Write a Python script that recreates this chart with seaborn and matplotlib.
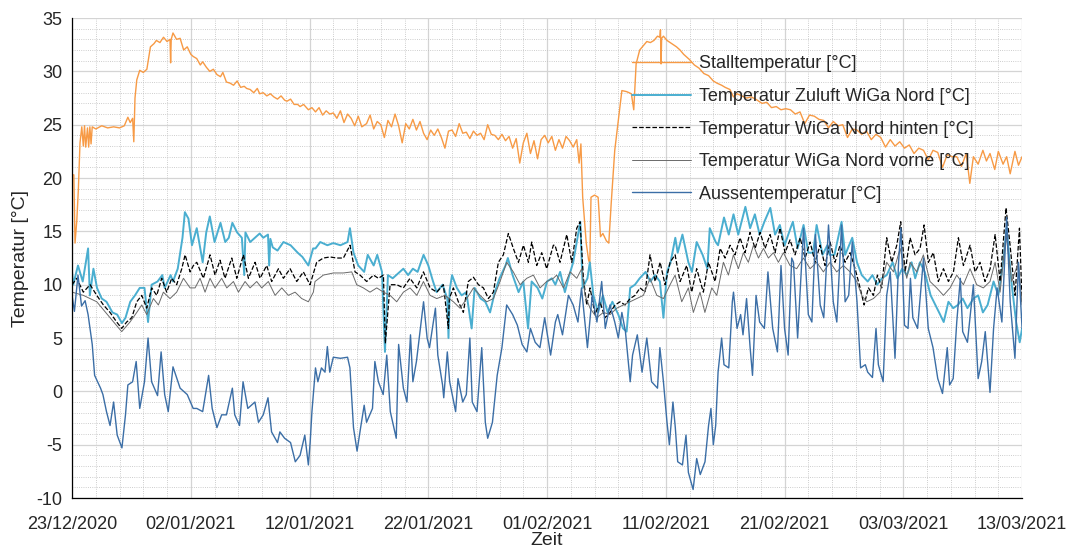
import pandas as pd
import matplotlib
matplotlib.use('Agg')
import matplotlib.pyplot as plt
import matplotlib.dates as mdates
import seaborn as sns

# Zeitachse: Tage ab 23/12/2020 00:00
start = pd.Timestamp('2020-12-23')

stall_tage = [0.0, 0.15, 0.25, 0.4, 0.53, 0.67, 0.82, 0.95, 1.05, 1.15, 1.3, 1.4, 1.5, 1.6, 1.7, 2.0, 2.5, 3.0, 3.5, 4.0,
              4.4, 4.7, 4.9, 5.1, 5.2, 5.3, 5.45, 5.7, 6.0, 6.3, 6.6, 6.9, 7.1, 7.4, 7.7, 8.0, 8.25, 8.3, 8.35, 8.5,
              8.8, 9.1, 9.4, 9.7, 10.0, 10.2, 10.5, 10.8, 11.0, 11.3, 11.6, 11.9, 12.2, 12.5, 12.7, 13.0, 13.3, 13.6,
              13.9, 14.2, 14.5, 14.7, 15.0, 15.3, 15.6, 15.8, 16.1, 16.4, 16.7, 17.0, 17.3, 17.6, 17.9, 18.1, 18.4,
              18.7, 19.0, 19.2, 19.5, 19.9, 20.2, 20.5, 20.8, 21.1, 21.4, 21.7, 22.0, 22.3, 22.6, 22.9, 23.2, 23.5,
              23.8, 24.1, 24.4, 24.8, 25.1, 25.4, 25.7, 26.0, 26.3, 26.6, 26.9, 27.2, 27.5, 27.8, 28.1, 28.4, 28.7,
              29.0, 29.3, 29.6, 29.9, 30.2, 30.5, 30.8, 31.1, 31.4, 31.7, 32.0, 32.3, 32.6, 32.9, 33.2, 33.5, 33.8,
              34.1, 34.4, 34.7, 35.0, 35.3, 35.6, 35.9, 36.2, 36.5, 36.8, 37.1, 37.4, 37.7, 38.0, 38.3, 38.6, 38.9,
              39.2, 39.5, 39.8, 40.1, 40.4, 40.7, 41.0, 41.3, 41.6, 41.9, 42.2, 42.5, 42.7, 42.85, 43.0, 43.3, 43.5,
              43.6, 43.7, 44.0, 44.3, 44.5, 44.7, 45.0, 45.2, 45.4, 45.7, 46.0, 46.3, 46.7, 47.1, 47.3, 47.4, 47.5,
              47.8, 48.1, 48.4, 48.7, 49.0, 49.3, 49.5, 49.55, 49.6, 49.65, 49.8, 50.1, 50.5, 50.9, 51.2, 51.5, 52.0,
              52.4, 52.8, 53.2, 53.6, 54.0, 54.3, 54.7, 55.0, 55.4, 55.7, 56.0, 56.4, 56.8, 57.2, 57.7, 58.1, 58.5,
              58.9, 59.3, 59.7, 60.1, 60.5, 60.9, 61.3, 61.7, 62.1, 62.5, 62.9, 63.3, 63.7, 64.1, 64.5, 64.9, 65.3,
              65.7, 66.1, 66.5, 66.9, 67.3, 67.7, 68.1, 68.5, 68.9, 69.3, 69.7, 70.1, 70.5, 70.9, 71.3, 71.7, 72.1,
              72.5, 72.9, 73.3, 73.7, 74.1, 74.5, 74.9, 75.3, 75.6, 75.9, 76.3, 76.7, 77.0, 77.3, 77.7, 78.0, 78.4,
              78.7, 79.0, 79.4, 79.7, 80.0]
stall_temp = [20.3, 20.3, 13.9, 16.0, 18.9, 23.3, 24.8, 23.0, 24.9, 22.9, 24.7, 22.9, 24.8, 23.2, 24.8, 24.6, 24.9, 24.7, 24.8, 24.7,
              24.9, 25.7, 25.2, 25.6, 23.4, 27.5, 29.2, 30.1, 29.9, 30.2, 32.3, 32.6, 32.9, 32.7, 33.2, 32.8, 33.0, 30.8, 33.0, 33.6,
              33.0, 33.1, 32.0, 32.3, 31.6, 31.4, 31.2, 30.6, 30.9, 30.4, 30.0, 30.2, 29.7, 29.5, 29.9, 29.0, 28.9, 28.7,
              29.1, 28.5, 28.6, 28.4, 28.3, 28.0, 28.4, 27.9, 28.0, 27.7, 27.9, 27.6, 27.4, 27.7, 27.3, 27.2, 27.4,
              26.9, 26.9, 26.7, 26.9, 26.4, 26.6, 26.2, 26.6, 25.9, 26.3, 26.0, 26.1, 25.6, 26.3, 25.2, 26.0, 25.6,
              24.9, 25.8, 24.8, 25.1, 25.9, 24.6, 25.3, 25.0, 23.8, 25.4, 24.8, 26.0, 24.9, 23.3, 25.1, 24.6, 25.5,
              24.5, 25.3, 24.2, 23.6, 24.5, 24.0, 24.6, 23.8, 22.8, 24.4, 24.5, 23.9, 25.1, 24.2, 24.3, 23.7, 24.4,
              24.0, 24.2, 23.6, 25.0, 24.1, 24.0, 23.6, 24.1, 23.5, 23.9, 22.8, 23.7, 21.4, 23.3, 24.2, 22.3, 23.5,
              21.8, 23.6, 24.0, 23.3, 23.9, 22.6, 23.6, 22.8, 23.9, 23.5, 22.9, 23.6, 21.4, 23.2, 18.2, 13.9, 12.3,
              12.0, 18.2, 18.4, 18.2, 14.5, 14.8, 14.1, 13.9, 17.6, 22.6, 25.4, 28.2, 28.1, 27.9, 26.4, 28.5, 30.7,
              32.0, 32.4, 32.8, 32.7, 32.9, 33.3, 33.2, 33.9, 30.7, 33.1, 33.3, 32.9, 32.6, 32.3, 32.0, 31.6, 31.1,
              30.6, 30.3, 29.8, 29.6, 29.1, 28.9, 28.7, 28.5, 28.3, 27.6, 27.9, 27.7, 27.5, 27.6, 27.3, 27.0, 27.1,
              26.6, 26.7, 26.4, 26.5, 26.4, 26.0, 26.2, 25.1, 25.9, 25.8, 25.5, 25.4, 24.7, 25.3, 24.9, 25.0, 23.8,
              24.6, 24.5, 24.1, 24.4, 23.6, 24.1, 23.8, 22.9, 23.6, 23.0, 23.4, 22.8, 23.1, 22.3, 22.8, 22.6, 21.7,
              22.6, 22.4, 21.0, 22.2, 22.0, 22.0, 21.1, 22.3, 19.5, 22.0, 21.3, 22.6, 21.6, 22.3, 20.8, 22.5, 21.3,
              22.0, 20.4, 22.5, 21.2, 22.0]

zuluft_tage = [0.0, 0.1, 0.5, 0.9, 1.35, 1.5, 1.8, 2.1, 2.5, 2.9, 3.4, 3.8, 4.2, 4.5, 4.9, 5.3, 5.7, 6.1, 6.4, 6.7,
               7.2, 7.6, 7.8, 8.3, 8.5, 8.9, 9.3, 9.5, 9.8, 10.1, 10.5, 11.0, 11.3, 11.6, 12.0, 12.5, 12.9, 13.2,
               13.5, 13.9, 14.3, 14.5, 14.6, 15.0, 15.4, 15.8, 16.1, 16.5, 16.6, 16.7, 16.9, 17.3, 17.8, 18.4, 19.0,
               19.4, 19.9, 20.3, 20.5, 20.9, 21.5, 22.0, 22.6, 23.2, 23.4, 23.7, 24.1, 24.6, 24.9, 25.4, 25.7, 26.1,
               26.35, 26.6, 27.0, 27.5, 27.9, 28.3, 28.7, 29.1, 29.6, 30.0, 30.4, 30.7, 31.2, 31.6, 31.7, 31.8, 32.0,
               32.4, 32.8, 33.2, 33.65, 33.9, 34.4, 34.8, 35.2, 35.6, 36.0, 36.5, 36.7, 37.1, 37.6, 38.0, 38.4, 38.7,
               39.2, 39.6, 40.0, 40.4, 40.7, 41.1, 41.5, 41.8, 42.2, 42.8, 43.0, 43.4, 43.6, 43.9, 44.3, 44.7, 45.1,
               45.5, 46.0, 46.4, 46.7, 47.0, 47.4, 47.8, 48.3, 48.7, 49.1, 49.5, 49.8, 50.1, 50.4, 50.8, 51.0, 51.4,
               51.9, 52.2, 52.6, 53.1, 53.5, 53.7, 54.2, 54.4, 54.9, 55.3, 55.7, 56.1, 56.7, 57.1, 57.5, 57.9, 58.3,
               58.8, 59.2, 59.6, 60.0, 60.5, 60.7, 61.1, 61.6, 62.0, 62.4, 62.7, 63.2, 63.6, 63.8, 64.2, 64.8, 65.1,
               65.7, 66.1, 66.5, 67.0, 67.4, 67.8, 68.2, 68.6, 69.1, 69.5, 69.9, 70.3, 70.7, 71.0, 71.4, 71.8, 72.3,
               72.7, 73.1, 73.4, 73.8, 74.2, 74.6, 75.0, 75.4, 75.9, 76.3, 76.7, 77.1, 77.6, 78.0, 78.4, 78.7, 79.1,
               79.5, 79.8, 80.0]
zuluft_temp = [11.2, 10.0, 11.8, 10.3, 13.4, 9.0, 11.5, 9.7, 8.7, 8.4, 7.4, 7.2, 6.4, 6.9, 8.4, 9.0, 9.7, 9.7, 6.5, 10.0,
               10.3, 10.9, 9.7, 10.9, 10.3, 11.5, 14.4, 16.8, 16.2, 13.7, 15.3, 12.1, 14.9, 16.4, 14.0, 15.8, 14.0, 14.4,
               15.8, 14.9, 14.4, 10.9, 14.9, 14.0, 14.4, 14.8, 14.4, 14.7, 11.8, 14.3, 13.5, 13.2, 14.0, 13.7, 13.0,
               12.6, 11.8, 13.4, 13.4, 14.0, 13.7, 13.9, 13.7, 14.0, 15.3, 13.0, 11.8, 11.2, 12.8, 11.8, 12.8, 11.2,
               3.7, 10.9, 10.6, 11.1, 11.5, 10.9, 11.5, 11.2, 12.8, 11.8, 10.3, 9.3, 10.0, 8.7, 5.0, 9.5, 10.9,
               9.7, 9.0, 9.3, 5.9, 9.7, 8.7, 8.4, 7.4, 9.3, 10.6, 11.8, 12.5, 10.9, 9.3, 10.3, 5.9, 10.3,
               9.7, 8.7, 10.3, 10.6, 10.0, 11.2, 9.3, 10.6, 12.1, 15.9, 9.7, 10.6, 12.1, 9.0, 7.4, 9.0, 7.4,
               8.4, 7.2, 5.9, 5.6, 9.7, 10.0, 10.6, 11.2, 10.3, 10.9, 10.3, 6.9, 11.2, 12.1, 14.4, 13.0, 14.7,
               12.1, 11.2, 14.0, 12.8, 11.5, 15.3, 14.0, 13.7, 16.3, 14.7, 16.6, 14.7, 17.3, 15.3, 16.6, 14.7, 15.9,
               17.2, 14.7, 15.6, 13.7, 15.3, 15.9, 13.4, 15.6, 13.0, 13.0, 15.6, 12.8, 13.7, 12.8, 12.8, 15.9, 12.8,
               14.4, 12.1, 10.9, 10.3, 10.9, 10.0, 10.6, 10.9, 12.1, 10.6, 11.5, 10.9, 12.1, 10.6, 12.1, 11.2, 9.0,
               8.1, 7.2, 6.5, 8.4, 7.8, 8.1, 8.7, 7.8, 8.7, 9.0, 7.4, 8.1, 10.3, 9.0, 12.1, 15.3, 10.3,
               6.5, 4.6, 5.9]

hinten_tage = [0.0, 0.39, 0.95, 1.52, 2.08, 2.64, 3.2, 3.76, 4.18, 4.6, 5.03, 5.45, 5.87, 6.29, 6.71, 7.13, 7.55, 7.97,
               8.39, 8.81, 9.24, 9.52, 9.94, 10.22, 10.5, 11.06, 11.62, 12.04, 12.46, 12.88, 13.45, 13.87, 14.43, 14.85,
               15.41, 15.83, 16.39, 16.81, 17.38, 17.8, 18.36, 18.92, 19.48, 20.04, 20.6, 21.16, 21.73, 22.29, 22.85,
               23.41, 23.83, 24.25, 24.81, 25.38, 25.8, 26.22, 26.38, 26.78, 27.34, 27.9, 28.46, 29.03, 29.59, 30.15,
               30.71, 31.27, 31.69, 31.77, 32.11, 32.53, 32.95, 33.37, 33.8, 34.22, 34.64, 35.06, 35.48, 35.9, 36.32,
               36.74, 37.16, 37.59, 38.01, 38.43, 38.71, 39.13, 39.55, 39.97, 40.53, 40.67, 41.09, 41.66, 42.08, 42.5,
               42.78, 43.06, 43.34, 43.62, 44.04, 44.46, 44.88, 45.31, 45.73, 46.15, 46.57, 46.99, 47.41, 47.83, 48.25,
               48.67, 49.1, 49.52, 49.94, 50.36, 50.78, 51.2, 51.76, 52.18, 52.6, 53.16, 53.59, 54.15, 54.57, 54.99,
               55.41, 55.83, 56.25, 56.67, 57.09, 57.52, 57.94, 58.36, 58.78, 59.2, 59.62, 60.04, 60.46, 60.88, 61.31,
               61.73, 62.15, 62.57, 62.99, 63.41, 63.83, 64.25, 64.67, 65.09, 65.52, 65.94, 66.36, 66.7, 67.06, 67.48,
               67.82, 68.18, 68.6, 69.02, 69.45, 69.78, 70.15, 70.57, 70.99, 71.41, 71.75, 72.11, 72.53, 72.95, 73.38,
               73.8, 74.22, 74.64, 75.06, 75.62, 76.04, 76.46, 76.88, 77.31, 77.73, 78.15, 78.65, 78.99, 79.41, 79.78,
               80.0]
hinten_temp = [10.0, 10.6, 9.3, 10.0, 9.0, 8.1, 7.4, 6.5, 5.9, 6.5, 6.9, 8.4, 9.0, 7.8, 9.7, 9.0, 10.6, 9.3,
               10.6, 10.0, 11.5, 12.8, 11.2, 11.8, 12.1, 10.6, 12.8, 10.9, 12.3, 10.6, 12.5, 10.6, 12.8, 10.6,
               12.1, 10.6, 11.8, 10.3, 11.5, 10.6, 11.5, 10.3, 11.2, 10.0, 12.1, 12.5, 12.6, 12.5, 12.5,
               13.7, 11.2, 10.9, 10.3, 10.9, 10.6, 10.9, 4.5, 10.0, 10.0, 9.7, 10.6, 9.7, 11.2, 9.7,
               9.3, 10.0, 5.9, 8.7, 9.7, 8.4, 7.4, 10.3, 10.7, 10.0, 9.7, 8.7, 9.3, 12.1, 12.8,
               14.8, 13.4, 12.1, 13.7, 12.1, 14.0, 11.8, 13.0, 11.5, 13.7, 13.7, 12.1, 14.7, 12.1, 15.3,
               15.9, 10.6, 8.1, 9.7, 7.2, 8.4, 6.9, 7.4, 8.1, 8.4, 8.1, 8.7, 9.0, 9.7, 9.3,
               12.8, 10.3, 12.1, 10.0, 12.1, 12.8, 10.3, 11.8, 9.3, 11.5, 9.3, 12.1, 10.3, 13.4, 12.5,
               13.7, 12.8, 14.4, 13.0, 14.9, 13.4, 14.9, 13.4, 14.7, 13.0, 15.3, 13.0, 14.2, 12.8, 14.4,
               12.5, 14.0, 12.1, 13.7, 11.8, 14.0, 12.1, 13.7, 12.1, 13.0, 11.5, 9.7, 8.1, 9.7, 9.0,
               10.9, 9.7, 14.4, 12.1, 13.7, 15.9, 11.2, 14.4, 12.8, 13.4, 15.6, 12.1, 13.0, 10.3, 11.5,
               10.3, 11.2, 14.4, 11.8, 13.7, 11.2, 12.1, 10.3, 11.5, 14.7, 10.3, 17.2, 13.7, 9.0, 15.3,
               8.4]

vorne_tage = [0.0, 0.95, 2.08, 3.2, 4.18, 4.88, 5.45, 5.87, 6.29, 6.85, 7.27, 7.69, 8.25, 8.81, 9.38, 9.94,
              10.36, 10.78, 11.2, 11.62, 12.04, 12.6, 13.03, 13.59, 14.01, 14.57, 14.99, 15.55, 15.97, 16.53, 17.1,
              17.66, 18.22, 18.78, 19.34, 19.9, 20.32, 20.46, 21.16, 22.01, 22.85, 23.55, 23.97, 24.53, 25.09, 25.66,
              26.22, 26.78, 27.34, 27.9, 28.46, 29.03, 29.59, 30.15, 30.71, 31.41, 32.11, 32.67, 33.24, 33.8, 34.36,
              34.92, 35.48, 36.04, 36.6, 37.16, 37.73, 38.29, 38.85, 39.41, 39.97, 40.53, 40.81, 41.38, 41.94, 42.5,
              42.92, 43.2, 43.62, 44.18, 44.74, 45.31, 45.87, 46.43, 46.99, 47.55, 48.11, 48.67, 49.24, 49.8, 50.36,
              50.78, 51.34, 51.9, 52.32, 52.88, 53.29, 53.87, 54.29, 54.85, 55.27, 55.69, 56.11, 56.53, 56.95, 57.38,
              57.8, 58.22, 58.64, 59.06, 59.48, 59.9, 60.46, 61.02, 61.59, 62.15, 62.71, 63.27, 63.83, 64.39, 64.95,
              65.52, 66.08, 66.5, 66.92, 67.48, 68.04, 68.6, 69.17, 69.73, 70.29, 70.57, 71.13, 71.69, 72.25, 72.81,
              73.38, 73.94, 74.5, 75.06, 75.62, 76.18, 76.74, 77.3, 77.73, 78.15, 78.65, 79.13, 79.69, 80.0]
vorne_temp = [9.3, 9.0, 8.4, 6.9, 5.6, 6.5, 7.4, 8.1, 7.2, 8.7, 8.1, 9.3, 8.7, 9.3, 10.6, 9.7,
              9.7, 10.6, 9.3, 10.6, 9.7, 10.6, 9.7, 10.3, 9.3, 10.3, 9.7, 10.3, 9.7, 10.3, 9.0,
              9.7, 9.0, 9.3, 8.7, 8.4, 9.3, 10.3, 10.9, 11.1, 11.1, 11.2, 10.0, 9.7, 9.3, 9.7,
              9.3, 9.0, 8.4, 9.3, 9.7, 9.0, 10.3, 9.0, 8.7, 9.0, 8.4, 7.8, 8.7, 9.7, 9.0,
              8.4, 8.7, 10.3, 12.1, 11.2, 10.0, 10.6, 10.9, 9.7, 10.3, 10.6, 10.9, 9.7, 11.2, 10.6,
              11.5, 9.0, 7.8, 6.9, 7.4, 7.2, 7.8, 8.1, 8.4, 8.7, 9.0, 10.6, 9.0, 8.7, 10.0,
              10.9, 8.4, 9.7, 7.4, 9.3, 7.4, 9.7, 9.0, 12.1, 10.9, 12.8, 11.5, 13.0, 12.1, 13.7,
              12.5, 13.4, 12.5, 13.0, 12.1, 13.0, 11.8, 11.5, 12.5, 11.5, 12.1, 11.2, 12.1, 11.2, 11.8,
              11.2, 10.3, 9.0, 8.4, 8.7, 9.3, 12.1, 11.2, 13.4, 10.6, 12.1, 11.2, 12.8, 10.3, 9.7,
              9.0, 9.7, 10.9, 10.0, 11.5, 10.0, 9.7, 10.3, 12.1, 9.3, 14.7, 10.3, 12.1, 8.1]

aussen_tage = [0.0, 0.2, 0.5, 0.8, 1.1, 1.35, 1.7, 1.9, 2.4, 2.6, 2.9, 3.2, 3.5, 3.8, 4.2, 4.5, 4.7, 5.1, 5.4, 5.7,
               6.1, 6.4, 6.7, 7.2, 7.5, 7.8, 8.1, 8.5, 9.1, 9.7, 10.2, 10.5, 11.0, 11.5, 11.8, 12.2, 12.6, 13.0, 13.5,
               13.7, 14.1, 14.4, 14.8, 15.4, 15.7, 16.1, 16.5, 16.8, 17.3, 17.5, 17.9, 18.4, 18.8, 19.2, 19.6, 19.9,
               20.05, 20.2, 20.5, 20.7, 21.0, 21.3, 21.5, 21.7, 22.0, 22.6, 23.2, 23.4, 23.7, 24.0, 24.3, 24.6, 24.8,
               25.3, 25.5, 25.8, 26.2, 26.5, 26.8, 27.3, 27.5, 27.9, 28.2, 28.5, 28.7, 29.0, 29.6, 29.9, 30.1, 30.6,
               30.8, 31.2, 31.3, 31.6, 31.8, 32.3, 32.5, 32.9, 33.2, 33.5, 33.7, 34.1, 34.5, 34.8, 35.0, 35.4, 35.8,
               36.2, 36.6, 37.1, 37.5, 37.9, 38.3, 38.6, 39.0, 39.4, 39.8, 40.3, 40.7, 40.9, 41.3, 41.8, 42.2, 42.6,
               42.9, 43.4, 43.8, 44.2, 44.6, 44.9, 45.3, 45.7, 46.0, 46.3, 46.6, 47.0, 47.2, 47.6, 48.0, 48.4, 48.8,
               49.3, 49.5, 49.8, 50.1, 50.3, 50.6, 50.8, 51.0, 51.4, 51.7, 51.9, 52.3, 52.6, 52.9, 53.3, 53.6, 53.8,
               54.0, 54.2, 54.4, 54.7, 54.9, 55.3, 55.6, 55.7, 56.0, 56.3, 56.5, 56.8, 57.1, 57.3, 57.6, 57.9, 58.3,
               58.6, 59.0, 59.4, 59.7, 60.0, 60.3, 60.6, 60.75, 61.1, 61.6, 62.0, 62.3, 62.6, 63.0, 63.3, 63.7, 64.1,
               64.4, 64.8, 65.1, 65.4, 65.7, 66.1, 66.4, 66.8, 67.0, 67.4, 67.7, 67.9, 68.3, 68.6, 68.9, 69.3, 69.6,
               69.8, 70.1, 70.4, 70.6, 70.8, 71.2, 71.7, 72.1, 72.5, 72.9, 73.3, 73.7, 73.9, 74.2, 74.5, 74.8, 75.0,
               75.4, 75.9, 76.3, 76.6, 76.9, 77.3, 77.6, 77.9, 78.3, 78.7, 79.0, 79.4, 79.7, 80.0]
aussen_temp = [9.0, 7.5, 10.9, 8.0, 8.5, 7.2, 4.4, 1.5, 0.3, -0.3, -1.9, -3.2, -1.0, -4.1, -5.3, -2.2, 0.6, 0.9, 2.8, -1.6,
               0.9, 5.0, 0.9, -0.4, 3.7, -0.3, -1.9, 2.3, 0.3, -0.3, -1.6, -1.6, -1.9, 1.5, -1.6, -3.4, -2.2, -2.2, 0.3,
               -2.2, -3.2, 0.9, -1.6, -1.0, -2.9, -2.2, -0.6, -3.8, -4.8, -3.8, -4.4, -4.8, -6.6, -6.0, -4.1, -6.9,
               -4.8, -1.9, 2.2, 0.9, 2.2, 1.8, 4.2, 1.8, 3.2, 3.1, 3.2, 2.2, -3.4, -5.6, -3.4, -1.3, -2.9,
               -1.6, 2.8, 0.9, -0.3, 3.4, -1.9, -4.4, 4.4, 0.3, -1.0, 5.3, 0.9, 2.8, 8.4, 5.0, 4.1, 7.8,
               3.4, 0.6, -0.6, 3.7, 0.9, -1.9, 1.2, -1.0, -0.3, 5.0, -1.0, -1.9, 4.1, -2.9, -4.4, -2.9, 1.5,
               4.1, 8.1, 7.2, 6.2, 4.4, 3.7, 5.9, 4.6, 4.1, 6.9, 3.4, 6.5, 7.2, 5.3, 9.0, 8.1, 6.5,
               9.7, 4.1, 9.0, 6.5, 10.3, 5.9, 8.1, 6.5, 5.0, 7.4, 5.6, 0.9, 3.4, 5.3, 1.8, 5.0, 0.9,
               0.3, 4.1, 0.9, -2.9, -5.0, -1.0, -3.4, -6.6, -6.9, -4.1, -7.6, -9.2, -6.3, -7.8, -6.6, -3.2, -1.6,
               -5.0, -3.2, 1.8, 5.0, 2.5, 2.2, 8.4, 9.3, 5.9, 7.2, 5.3, 8.7, 4.1, 1.5, 9.0, 6.5, 5.9,
               11.2, 5.9, 3.7, 11.8, 5.9, 3.4, 12.5, 12.1, 5.0, 15.3, 7.2, 6.5, 14.7, 8.1, 6.9, 15.6, 8.4,
               6.5, 15.6, 8.4, 9.0, 14.0, 8.4, 2.2, 2.5, 1.8, 1.3, 5.9, 2.5, 0.9, 9.0, 11.2, 3.1, 12.1,
               15.3, 6.2, 5.9, 10.6, 6.9, 5.9, 12.5, 5.9, 4.1, 1.2, -0.2, 4.1, 0.6, 1.2, 6.5, 10.6, 5.6,
               4.6, 10.0, 1.2, 2.8, 5.6, -0.1, 5.9, 9.7, 6.5, 16.3, 8.4, 3.1, 12.1, 5.9]

tick_labels = pd.date_range('2020-12-23', '2021-03-13', freq='10D')


def zeit(tage):
    return start + pd.to_timedelta(tage, unit='D')


sns.set_style('white')
plt.rcParams['font.family'] = ['Liberation Sans', 'DejaVu Sans']
plt.rcParams['axes.unicode_minus'] = False

fig = plt.figure(figsize=(10.69, 5.5), dpi=100)
ax = fig.add_axes([0.0674, 0.0945, 0.8887, 0.8727])

sns.lineplot(x=zeit(stall_tage), y=stall_temp, ax=ax, color='#f79a45', lw=1.0,
             label='Stalltemperatur [°C]')
sns.lineplot(x=zeit(zuluft_tage), y=zuluft_temp, ax=ax, color='#4aaed0', lw=1.4,
             label='Temperatur Zuluft WiGa Nord [°C]')
sns.lineplot(x=zeit(hinten_tage), y=hinten_temp, ax=ax, color='black', lw=0.9, linestyle='--',
             label='Temperatur WiGa Nord hinten [°C]')
sns.lineplot(x=zeit(vorne_tage), y=vorne_temp, ax=ax, color='#6a6a6a', lw=0.7,
             label='Temperatur WiGa Nord vorne [°C]')
sns.lineplot(x=zeit(aussen_tage), y=aussen_temp, ax=ax, color='#3b6ea6', lw=1.0,
             label='Aussentemperatur [°C]')

ax.set_xlim(tick_labels[0], tick_labels[-1])
ax.set_ylim(-10, 35)
ax.set_xticks(tick_labels)
ax.xaxis.set_major_formatter(mdates.DateFormatter('%d/%m/%Y'))
ax.set_xticks(pd.date_range('2020-12-23', '2021-03-13', freq='2D'), minor=True)
ax.set_yticks(range(-10, 36, 5))
ax.set_yticks(range(-10, 36, 1), minor=True)

ax.grid(which='major', color='#d4d4d4', lw=0.9)
ax.grid(which='minor', color='#bdbdbd', lw=0.6, linestyle=':')
ax.set_axisbelow(True)

for s in ['top', 'right']:
    ax.spines[s].set_visible(False)
for s in ['left', 'bottom']:
    ax.spines[s].set_color('black')
    ax.spines[s].set_linewidth(0.9)

ax.tick_params(which='major', direction='in', length=6, width=0.9, labelsize=13, color='black')
ax.tick_params(axis='y', which='major', pad=7)
ax.tick_params(axis='x', which='major', pad=13)
ax.tick_params(which='minor', direction='in', length=0)
ax.set_xlabel('Zeit', fontsize=14, labelpad=-1)
ax.set_ylabel('Temperatur [°C]', fontsize=14, labelpad=5)

ax.legend(loc='upper left', bbox_to_anchor=(0.589, 0.922), frameon=False, fontsize=13,
          handlelength=3.3, handletextpad=0.45, labelspacing=0.86, borderpad=0, borderaxespad=0)

plt.savefig('out.png', dpi=100)
